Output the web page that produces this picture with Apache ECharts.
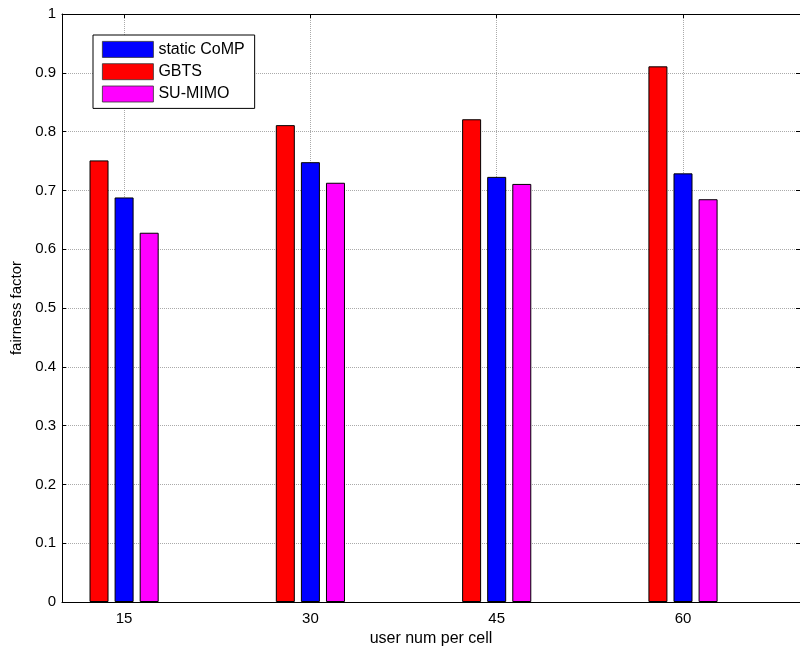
<!DOCTYPE html>
<html><head><meta charset="utf-8">
<script src="https://cdn.jsdelivr.net/npm/echarts@6/dist/echarts.min.js"></script>
<style>html,body{margin:0;padding:0;background:#fff}#c{width:800px;height:648px}</style>
</head><body><div id="c"></div>
<script>
const categories = [15, 30, 45, 60];
const gbts = [0.751, 0.811, 0.821, 0.911];
const staticCoMP = [0.688, 0.748, 0.723, 0.729];
const suMimo = [0.628, 0.713, 0.711, 0.685];
const yTicks = [0, 0.1, 0.2, 0.3, 0.4, 0.5, 0.6, 0.7, 0.8, 0.9, 1];

const pair = arr => categories.map((c, i) => [c, arr[i]]);
const font = 'Liberation Sans, Arial, sans-serif';
const barStyle = c => ({ color: c, borderColor: '#000', borderWidth: 1 });
const gridDot = { show: true, lineStyle: { color: '#aaa', type: [1, 1], width: 1 } };

const chart = echarts.init(document.getElementById('c'), null, { renderer: 'canvas' });
chart.setOption({
  animation: false,
  backgroundColor: '#fff',
  grid: { left: 62, top: 14, right: 0, bottom: 46, containLabel: false, outerBoundsMode: 'none' },
  legend: {
    data: ['static CoMP', 'GBTS', 'SU-MIMO'],
    orient: 'vertical', left: 93, top: 35,
    itemWidth: 51, itemHeight: 16, itemGap: 5.5,
    padding: [6, 10, 6, 9],
    borderColor: '#000', borderWidth: 1, backgroundColor: '#fff',
    textStyle: { fontFamily: font, fontSize: 16, color: '#000', padding: [0, 0, 0, 0] },
    itemStyle: { borderWidth: 0.8, borderColor: '#333' },
    icon: 'rect'
  },
  xAxis: [{
    type: 'value', min: 10, max: 69.42,
    name: 'user num per cell', nameLocation: 'middle', nameGap: 23,
    nameTextStyle: { fontFamily: font, fontSize: 16, color: '#000' },
    axisLine: { show: true, onZero: false, lineStyle: { color: '#000', width: 1 } },
    axisTick: { show: true, inside: true, length: 4, customValues: categories, lineStyle: { color: '#000' } },
    axisLabel: { customValues: categories, fontFamily: font, fontSize: 15, color: '#000', margin: 9 },
    splitLine: gridDot
  }, {
    type: 'value', min: 10, max: 69.42, position: 'top',
    axisLine: { show: true, onZero: false, lineStyle: { color: '#000', width: 1 } },
    axisTick: { show: true, inside: true, length: 4, customValues: categories, lineStyle: { color: '#000' } },
    axisLabel: { show: false }, splitLine: { show: false }
  }],
  yAxis: [{
    type: 'value', min: 0, max: 1, interval: 0.1,
    name: 'fairness factor', nameLocation: 'middle', nameGap: 36,
    nameTextStyle: { fontFamily: font, fontSize: 15, color: '#000' },
    axisLine: { show: true, lineStyle: { color: '#000', width: 1 } },
    axisTick: { show: true, inside: true, length: 4, lineStyle: { color: '#000' } },
    axisLabel: { fontFamily: font, fontSize: 15, color: '#000', margin: 6, formatter: v => String(Math.round(v * 10) / 10) },
    splitLine: gridDot
  }, {
    type: 'value', min: 0, max: 1, interval: 0.1, position: 'right',
    axisLine: { show: false },
    axisTick: { show: true, inside: true, length: 4, lineStyle: { color: '#000' } },
    axisLabel: { show: false }, splitLine: { show: false }
  }],
  series: [
    { name: 'GBTS', type: 'bar', data: pair(gbts), barWidth: 19, barGap: '32%', itemStyle: barStyle('#ff0000') },
    { name: 'static CoMP', type: 'bar', data: pair(staticCoMP), barWidth: 19, barGap: '32%', itemStyle: barStyle('#0000ff') },
    { name: 'SU-MIMO', type: 'bar', data: pair(suMimo), barWidth: 19, barGap: '32%', itemStyle: barStyle('#ff00ff') }
  ]
});
</script></body></html>
